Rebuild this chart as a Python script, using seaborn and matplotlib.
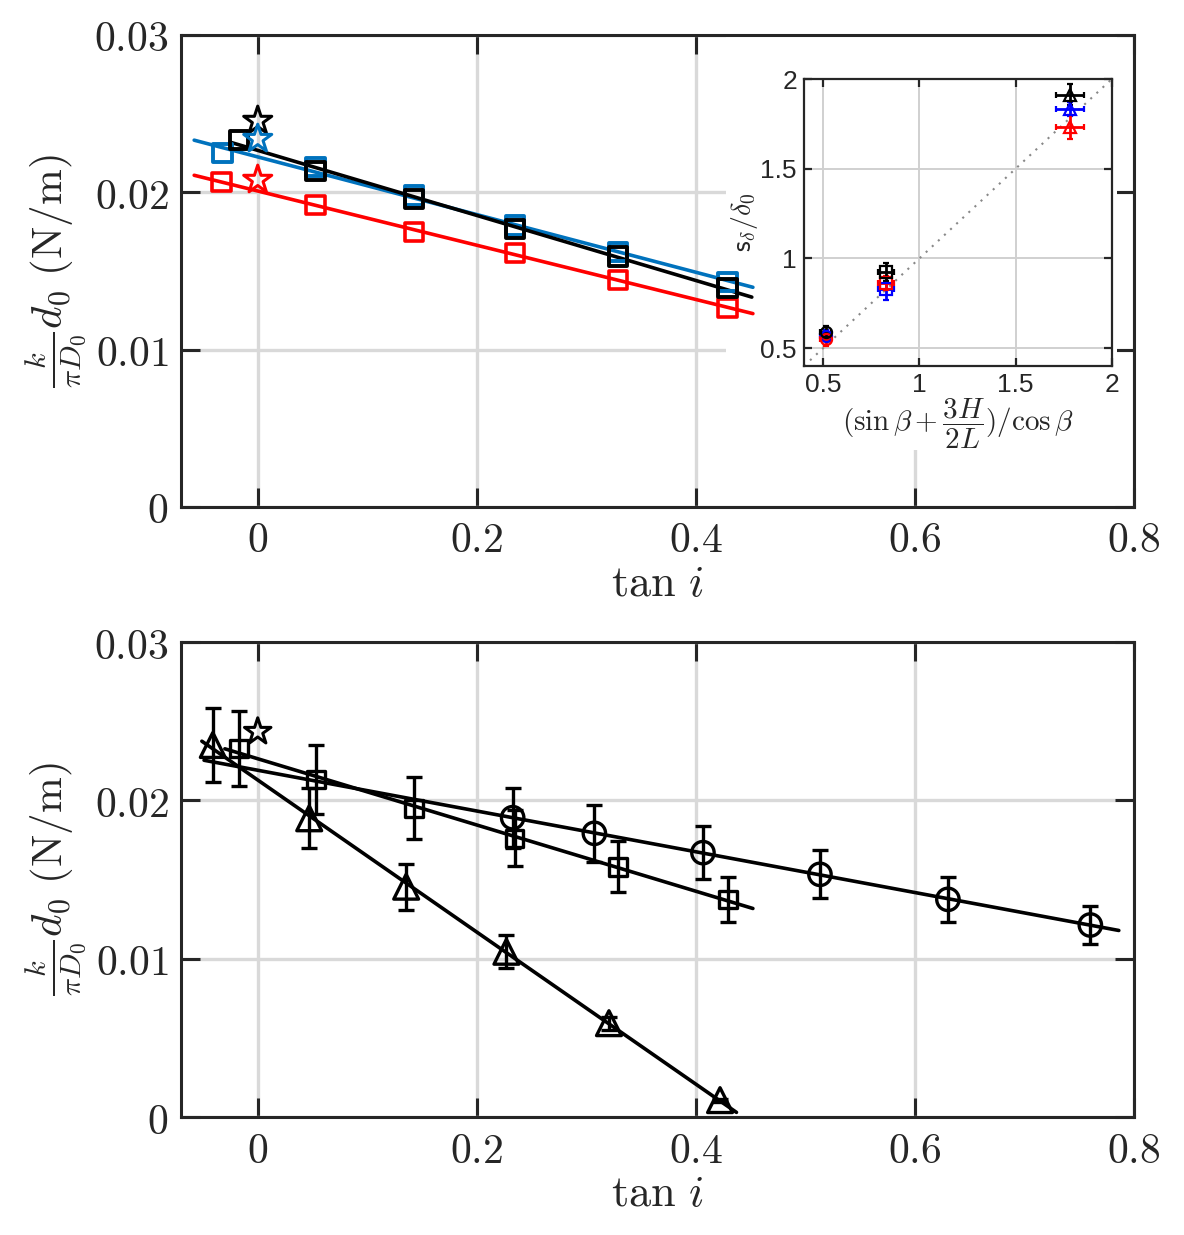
import numpy as np
import pandas as pd
import matplotlib
matplotlib.use('Agg')
import matplotlib.pyplot as plt
import seaborn as sns
from matplotlib.patches import Rectangle

# ---- top panel: three liquids, squares + stars at tan i = 0
top_x = [-0.017, 0.053, 0.1425, 0.235, 0.329, 0.429]
top_y_black = [0.02333, 0.02136, 0.01958, 0.01767, 0.0159, 0.01392]
top_x_blue = [-0.0324, 0.053, 0.1425, 0.235, 0.329, 0.429]
top_y_blue = [0.0225, 0.0216, 0.0198, 0.0179, 0.0162, 0.0143]
top_x_red = [-0.033, 0.053, 0.1425, 0.235, 0.329, 0.429]
top_y_red = [0.02066, 0.0192, 0.01748, 0.01615, 0.01443, 0.01265]
top_star_y = [0.02454, 0.02339, 0.02079]   # black, blue, red at tan i = 0
fit_span_black = [-0.025, 0.451]
fit_span_blue = [-0.058, 0.452]
fit_span_red = [-0.058, 0.452]

# ---- bottom panel: three geometries
tri_x = [-0.041, 0.047, 0.1355, 0.227, 0.3206, 0.422]
tri_y = [0.0235, 0.01887, 0.01455, 0.01044, 0.00593, 0.00107]
tri_err = [0.00235, 0.0019, 0.00145, 0.00105, 0.0004, 0.0001]
sq_x = [-0.0172, 0.053, 0.1425, 0.2345, 0.329, 0.4295]
sq_y = [0.02329, 0.02133, 0.0195, 0.0176, 0.01581, 0.01375]
sq_err = [0.00235, 0.00216, 0.00196, 0.00177, 0.0016, 0.0014]
circ_x = [0.2327, 0.3073, 0.4064, 0.5132, 0.63, 0.760]
circ_y = [0.01891, 0.01792, 0.0167, 0.01533, 0.01375, 0.01213]
circ_err = [0.0019, 0.0018, 0.00168, 0.00152, 0.00142, 0.00122]
bot_star_y = 0.02434
fit_span_tri = [-0.051, 0.437]
fit_span_sq = [-0.03, 0.452]
fit_span_circ = [-0.049, 0.786]

# ---- inset: s_delta/delta_0 vs geometric factor
ins_x = [0.513, 0.827, 1.782]
ins_markers = ['o', 's', '^']
ins_xerr = [0.03, 0.04, 0.074]
ins_y_black = [0.592, 0.922, 1.913]
ins_y_blue = [0.57, 0.83, 1.833]
ins_y_red = [0.552, 0.863, 1.733]
ins_yerr_black = [0.03, 0.05, 0.06]
ins_yerr_blue = [0.03, 0.063, 0.04]
ins_yerr_red = [0.04, 0.04, 0.065]
diag = [0.4, 2.0]

main_xticks = [0, 0.2, 0.4, 0.6, 0.8]
main_yticks = [0, 0.01, 0.02, 0.03]
ins_ticks = [0.5, 1, 1.5, 2]

MBLUE = '#0072BD'

sns.set_style('ticks')
plt.rcParams['mathtext.fontset'] = 'cm'
plt.rcParams['font.family'] = ['DejaVu Serif']

fig = plt.figure(figsize=(11.84, 12.35), dpi=100)
ax1 = fig.add_axes([0.1529, 0.5895, 0.805, 0.3822])
ax2 = fig.add_axes([0.1529, 0.0955, 0.805, 0.3846])


def style_main(ax):
    ax.set_xlim(-0.07, 0.8)
    ax.set_ylim(0, 0.03)
    ax.set_xticks(main_xticks)
    ax.set_xticklabels([f'${t:g}$' for t in main_xticks])
    ax.set_yticks(main_yticks)
    ax.set_yticklabels([f'${t:g}$' for t in main_yticks])
    ax.tick_params(direction='in', length=14, width=2.2, top=True, right=True,
                   labelsize=30, pad=9)
    for s in ax.spines.values():
        s.set_linewidth(2.2)
    ax.grid(True, color='#d9d9d9', lw=2.4)
    ax.set_axisbelow(True)
    ax.set_xlabel(r'$\tan\,i$', fontsize=32, labelpad=0)
    ax.set_ylabel(r'$\frac{k}{\pi D_0}d_0\ (\mathrm{N/m})$', fontsize=31, labelpad=4)


def fit_line(ax, x, y, span, color):
    k, b = np.polyfit(x, y, 1)
    xs = np.array(span)
    sns.lineplot(x=xs, y=k * xs + b, ax=ax, color=color, lw=2.6, zorder=3)


def open_marks(ax, x, y, marker, size, color, lw=2.0):
    sns.scatterplot(x=x, y=y, ax=ax, marker=marker, s=size, facecolor='none',
                    edgecolor=color, linewidth=lw, zorder=4)


# top panel
style_main(ax1)
fit_line(ax1, top_x_blue, top_y_blue, fit_span_blue, MBLUE)
fit_line(ax1, top_x_red, top_y_red, fit_span_red, 'red')
fit_line(ax1, top_x, top_y_black, fit_span_black, 'black')
open_marks(ax1, top_x_red, top_y_red, 's', 180, 'red', 2.6)
open_marks(ax1, top_x_blue, top_y_blue, 's', 180, MBLUE, 2.8)
open_marks(ax1, top_x, top_y_black, 's', 180, 'black', 2.8)
for yy, c in zip(top_star_y, ['black', MBLUE, 'red']):
    open_marks(ax1, [0.0], [yy], '*', 450, c, 2.2)

# white panel behind the inset
ax1.add_patch(Rectangle((0.572, 0.12), 0.41, 0.88, transform=ax1.transAxes,
                        facecolor='white', edgecolor='none', zorder=0.8))

# inset
axi = fig.add_axes([0.679, 0.7036, 0.260, 0.2324])
axi.set_xlim(0.4, 2)
axi.set_ylim(0.4, 2)
axi.grid(True, color='#d0d0d0', lw=1.4)
axi.set_axisbelow(True)
sns.lineplot(x=diag, y=diag, ax=axi, color='#888888', lw=1.5, linestyle=(0, (1, 3)))
for ys, es, c in [(ins_y_blue, ins_yerr_blue, 'blue'),
                  (ins_y_red, ins_yerr_red, 'red'),
                  (ins_y_black, ins_yerr_black, 'black')]:
    for xx, yy, xe, ye, m in zip(ins_x, ys, ins_xerr, es, ins_markers):
        axi.errorbar(xx, yy, xerr=xe, yerr=ye, fmt=m, mfc='none', mec=c, ecolor=c,
                     ms=8, mew=1.6, elinewidth=2, capsize=2.5, capthick=2, zorder=4)
axi.set_xticks(ins_ticks)
axi.set_xticklabels([f'{t:g}' for t in ins_ticks], family='Liberation Sans')
axi.set_yticks(ins_ticks)
axi.set_yticklabels([f'{t:g}' for t in ins_ticks], family='Liberation Sans')
axi.tick_params(direction='in', length=6, width=1.6, top=True, right=True,
                labelsize=19, pad=5)
for s in axi.spines.values():
    s.set_linewidth(1.6)
    s.set_color('#262626')
axi.set_xlabel(r'$(\sin\beta+\dfrac{3H}{2L})/\cos\beta$', fontsize=21, labelpad=0)
axi.set_ylabel(r'$\mathsf{s}_{\delta}/\delta_0$', fontsize=20, labelpad=0)

# bottom panel
style_main(ax2)
fit_line(ax2, tri_x, tri_y, fit_span_tri, 'black')
fit_line(ax2, sq_x, sq_y, fit_span_sq, 'black')
fit_line(ax2, circ_x, circ_y, fit_span_circ, 'black')
for xs, ys, es in [(tri_x, tri_y, tri_err), (sq_x, sq_y, sq_err), (circ_x, circ_y, circ_err)]:
    ax2.errorbar(xs, ys, yerr=es, fmt='none', ecolor='black', elinewidth=2.4,
                 capsize=6, capthick=2.4, zorder=3)
open_marks(ax2, tri_x, tri_y, '^', 320, 'black', 2.4)
open_marks(ax2, sq_x, sq_y, 's', 160, 'black', 2.4)
open_marks(ax2, circ_x, circ_y, 'o', 260, 'black', 2.4)
open_marks(ax2, [0.0], [bot_star_y], '*', 400, 'black', 2.2)

fig.savefig('out.png', dpi=100)
